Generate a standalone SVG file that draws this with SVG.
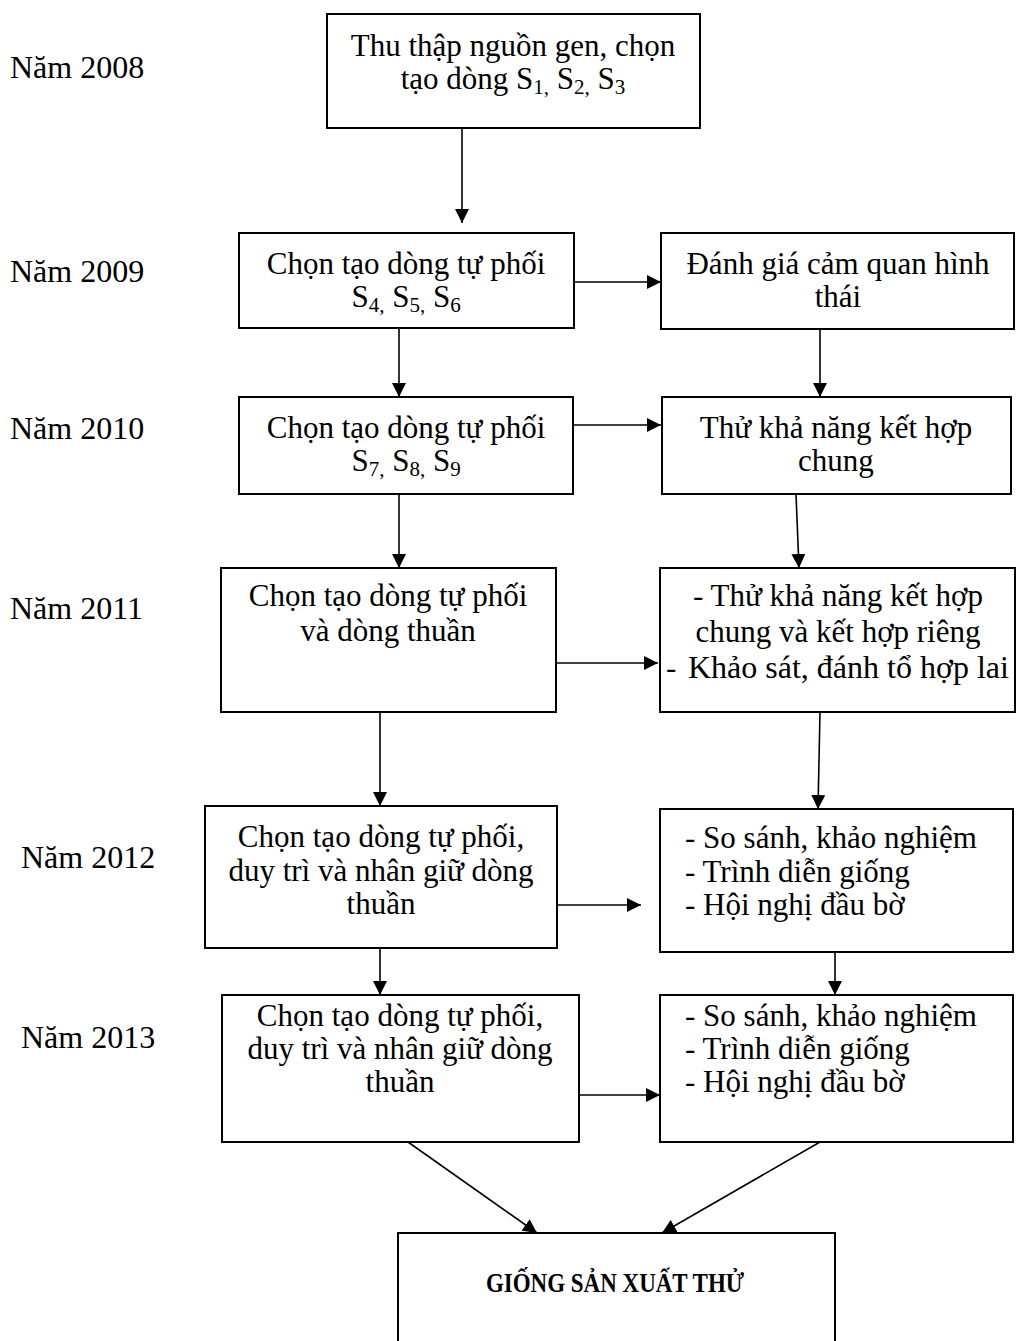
<svg xmlns="http://www.w3.org/2000/svg" width="1016" height="1341" viewBox="0 0 1016 1341">
<style>
  .box { fill: #fff; stroke: #000; stroke-width: 2; }
  .t { font-family: "Liberation Serif", "Times New Roman", serif; font-size: 31px; fill: #000; }
  .c { text-anchor: middle; }
  .yr { font-family: "Liberation Serif", "Times New Roman", serif; font-size: 32px; fill: #000; }
  .sub { font-size: 21px; }
  .b { font-family: "Liberation Serif", "Times New Roman", serif; font-size: 23px; font-weight: bold; text-anchor: middle; }
  .con line { stroke: #000; stroke-width: 1.6; marker-end: url(#ah); }
</style>
<defs>
  <marker id="ah" viewBox="0 0 14 14" refX="14" refY="7" markerWidth="14" markerHeight="14" markerUnits="userSpaceOnUse" orient="auto">
    <path d="M0,0 L14,7 L0,14 z" fill="#000"/>
  </marker>
</defs>
<rect width="1016" height="1341" fill="#fff"/>

<g id="years">
  <text class="yr" x="10" y="78">Năm 2008</text>
  <text class="yr" x="10" y="282">Năm 2009</text>
  <text class="yr" x="10" y="439">Năm 2010</text>
  <text class="yr" x="10" y="619">Năm 2011</text>
  <text class="yr" x="21" y="868">Năm 2012</text>
  <text class="yr" x="21" y="1048">Năm 2013</text>
</g>

<g id="n2008">
  <rect class="box" x="327" y="14" width="373" height="114"/>
  <text class="t c" x="513" y="56">Thu thập nguồn gen, chọn</text>
  <text class="t c" x="513" y="89">tạo dòng S<tspan class="sub" dy="5">1,</tspan><tspan dy="-5"> S</tspan><tspan class="sub" dy="5">2,</tspan><tspan dy="-5"> S</tspan><tspan class="sub" dy="5">3</tspan></text>
</g>

<g id="n2009a">
  <rect class="box" x="239" y="233" width="335" height="95"/>
  <text class="t c" x="406" y="274">Chọn tạo dòng tự phối</text>
  <text class="t c" x="406" y="307">S<tspan class="sub" dy="5">4,</tspan><tspan dy="-5"> S</tspan><tspan class="sub" dy="5">5,</tspan><tspan dy="-5"> S</tspan><tspan class="sub" dy="5">6</tspan></text>
</g>
<g id="n2009b">
  <rect class="box" x="661" y="233" width="353" height="96"/>
  <text class="t c" x="838" y="274">Đánh giá cảm quan hình</text>
  <text class="t c" x="838" y="307">thái</text>
</g>

<g id="n2010a">
  <rect class="box" x="239" y="397" width="334" height="97"/>
  <text class="t c" x="406" y="438">Chọn tạo dòng tự phối</text>
  <text class="t c" x="406" y="471">S<tspan class="sub" dy="5">7,</tspan><tspan dy="-5"> S</tspan><tspan class="sub" dy="5">8,</tspan><tspan dy="-5"> S</tspan><tspan class="sub" dy="5">9</tspan></text>
</g>
<g id="n2010b">
  <rect class="box" x="662" y="397" width="349" height="97"/>
  <text class="t c" x="836" y="438">Thử khả năng kết hợp</text>
  <text class="t c" x="836" y="471">chung</text>
</g>

<g id="n2011a">
  <rect class="box" x="221" y="568" width="335" height="144"/>
  <text class="t c" x="388" y="606">Chọn tạo dòng tự phối</text>
  <text class="t c" x="388" y="641">và dòng thuần</text>
</g>
<g id="n2011b">
  <rect class="box" x="660" y="568" width="355" height="144"/>
  <text class="t c" x="838" y="606">- Thử khả năng kết hợp</text>
  <text class="t c" x="838" y="642">chung và kết hợp riêng</text>
  <text class="t" x="666" y="678">-</text>
  <text class="t" x="688" y="678" style="font-size:32px">Khảo sát, đánh tổ hợp lai</text>
</g>

<g id="n2012a">
  <rect class="box" x="205" y="806" width="352" height="142"/>
  <text class="t c" x="381" y="847">Chọn tạo dòng tự phối,</text>
  <text class="t c" x="381" y="881">duy trì và nhân giữ dòng</text>
  <text class="t c" x="381" y="914">thuần</text>
</g>
<g id="n2012b">
  <rect class="box" x="660" y="809" width="353" height="143"/>
  <text class="t" x="685" y="848">- So sánh, khảo nghiệm</text>
  <text class="t" x="685" y="882">- Trình diễn giống</text>
  <text class="t" x="685" y="915">- Hội nghị đầu bờ</text>
</g>

<g id="n2013a">
  <rect class="box" x="222" y="995" width="357" height="147"/>
  <text class="t c" x="400" y="1026">Chọn tạo dòng tự phối,</text>
  <text class="t c" x="400" y="1059">duy trì và nhân giữ dòng</text>
  <text class="t c" x="400" y="1092">thuần</text>
</g>
<g id="n2013b">
  <rect class="box" x="660" y="995" width="353" height="147"/>
  <text class="t" x="685" y="1026">- So sánh, khảo nghiệm</text>
  <text class="t" x="685" y="1059">- Trình diễn giống</text>
  <text class="t" x="685" y="1092">- Hội nghị đầu bờ</text>
</g>

<g id="nfinal">
  <rect class="box" x="398" y="1233" width="437" height="120"/>
  <text class="b" transform="translate(615,1292) scale(1,1.17)" x="0" y="0">GIỐNG SẢN XUẤT THỬ</text>
</g>

<g id="connectors" class="con">
  <line x1="462" y1="128" x2="462" y2="223"/>
  <line x1="574" y1="282" x2="661" y2="282"/>
  <line x1="399" y1="328" x2="399" y2="397"/>
  <line x1="820" y1="329" x2="820" y2="397"/>
  <line x1="573" y1="425" x2="661" y2="425"/>
  <line x1="399" y1="494" x2="399" y2="568"/>
  <line x1="796" y1="494" x2="799" y2="568"/>
  <line x1="556" y1="663" x2="658" y2="663"/>
  <line x1="380" y1="712" x2="380" y2="806"/>
  <line x1="820" y1="712" x2="818" y2="809"/>
  <line x1="557" y1="905" x2="641" y2="905"/>
  <line x1="380" y1="948" x2="380" y2="995"/>
  <line x1="835" y1="952" x2="835" y2="995"/>
  <line x1="579" y1="1095" x2="660" y2="1095"/>
  <line x1="408" y1="1142" x2="537" y2="1233"/>
  <line x1="820" y1="1142" x2="662" y2="1233"/>
</g>
</svg>
